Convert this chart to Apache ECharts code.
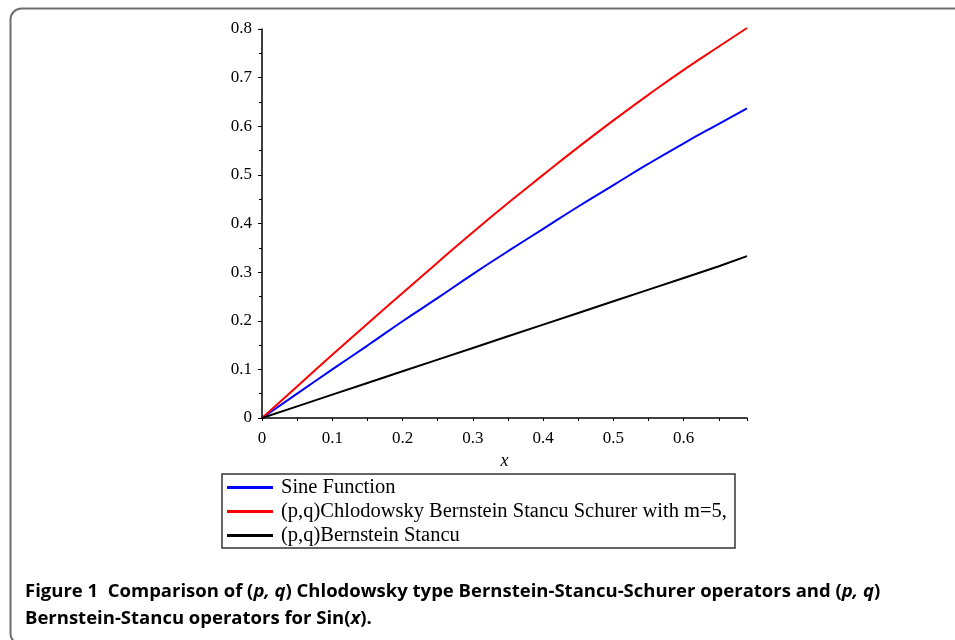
<!DOCTYPE html>
<html>
<head>
<meta charset="utf-8">
<script src="https://cdn.jsdelivr.net/npm/echarts@6/dist/echarts.min.js"></script>
<style>
    html, body { margin: 0; padding: 0; background: #fff; }
    #chart { width: 955px; height: 640px; }
</style>
</head>
<body>
<div id="chart"></div>
<script>
// values
var xs = [0, 0.05, 0.1, 0.15, 0.2, 0.25, 0.3, 0.35, 0.4, 0.45, 0.5, 0.55, 0.6, 0.65, 0.69];
var sineVals = [0, 0.050, 0.100, 0.149, 0.199, 0.247, 0.296, 0.343, 0.389, 0.435, 0.479, 0.523, 0.565, 0.605, 0.637];
var chlodowskyVals = [0, 0.065, 0.130, 0.194, 0.257, 0.320, 0.382, 0.442, 0.500, 0.557, 0.612, 0.665, 0.716, 0.764, 0.802];
var stancuVals = [0, 0.024, 0.048, 0.072, 0.096, 0.120, 0.144, 0.168, 0.192, 0.216, 0.240, 0.264, 0.288, 0.312, 0.333];

var seriesNames = [
    'Sine Function',
    '(p,q)Chlodowsky Bernstein Stancu Schurer with m=5,',
    '(p,q)Bernstein Stancu'
];
var seriesColors = ['#0000ff', '#ff0000', '#000000'];

function pairs(ys) {
    var out = [];
    for (var i = 0; i < xs.length; i++) {
        out.push([xs[i], ys[i]]);
    }
    return out;
}

var serif = '"Liberation Serif", "DejaVu Serif", serif';
var capFont = '"Open Sans", "Noto Sans", sans-serif';
var capSize = 18.5;

var myChart = echarts.init(document.getElementById('chart'));

myChart.setOption({
    animation: false,
    backgroundColor: '#fff',
    grid: {
        left: 262,
        top: 29,
        width: 485,
        height: 389
    },
    xAxis: {
        type: 'value',
        min: 0,
        max: 0.69,
        interval: 0.1,
        name: 'x',
        nameLocation: 'middle',
        nameGap: 30,
        nameTextStyle: {fontFamily: serif, fontStyle: 'italic', fontSize: 18, color: '#000'},
        axisLine: {lineStyle: {color: '#000', width: 1.5}},
        axisTick: {show: true, length: 3, lineStyle: {color: '#000'}},
        minorTick: {show: true, splitNumber: 2, length: 3, lineStyle: {color: '#000'}},
        splitLine: {show: false},
        axisLabel: {
            fontFamily: serif, fontSize: 17, color: '#000', margin: 12,
            showMaxLabel: false,
            formatter: function (v) { return v === 0 ? '0' : v.toFixed(1); }
        }
    },
    yAxis: {
        type: 'value',
        min: 0,
        max: 0.8,
        interval: 0.1,
        axisLine: {show: true, lineStyle: {color: '#000', width: 1.5}},
        axisTick: {show: true, length: 4, lineStyle: {color: '#000'}},
        minorTick: {show: true, splitNumber: 2, length: 3, lineStyle: {color: '#000'}},
        splitLine: {show: false},
        axisLabel: {
            fontFamily: serif, fontSize: 17, color: '#000', margin: 10,
            formatter: function (v) { return v === 0 ? '0' : v.toFixed(1); }
        }
    },
    legend: {
        orient: 'vertical',
        left: 222,
        top: 474,
        padding: [3, 8, 2, 5],
        itemGap: 3,
        itemWidth: 46,
        itemHeight: 3,
        icon: 'rect',
        borderColor: '#333',
        borderWidth: 1.5,
        textStyle: {fontFamily: serif, fontSize: 20.5, lineHeight: 20, color: '#000', padding: [0, 0, 0, 3]},
        data: seriesNames
    },
    series: [
        {
            name: seriesNames[0],
            type: 'line',
            showSymbol: false,
            clip: false,
            smooth: true,
            lineStyle: {color: seriesColors[0], width: 2},
            itemStyle: {color: seriesColors[0]},
            data: pairs(sineVals)
        },
        {
            name: seriesNames[1],
            type: 'line',
            showSymbol: false,
            clip: false,
            smooth: true,
            lineStyle: {color: seriesColors[1], width: 2},
            itemStyle: {color: seriesColors[1]},
            data: pairs(chlodowskyVals)
        },
        {
            name: seriesNames[2],
            type: 'line',
            showSymbol: false,
            clip: false,
            lineStyle: {color: seriesColors[2], width: 2},
            itemStyle: {color: seriesColors[2]},
            data: pairs(stancuVals)
        }
    ],
    graphic: [
        {
            type: 'rect',
            left: 8,
            top: 6,
            shape: {width: 960, height: 636, r: 11},
            style: {fill: 'none', stroke: '#6e6e6e', lineWidth: 2},
            z: -1
        },
        {
            type: 'text',
            left: 25,
            top: 582,
            style: {
                text: '{b|Figure 1  Comparison of (}{i|p, q}{b|) Chlodowsky type Bernstein-Stancu-Schurer operators and (}{i|p, q}{b|)}\n' +
                    '{b|Bernstein-Stancu operators for Sin(}{i|x}{b|).}',
                rich: {
                    b: {fontFamily: capFont, fontWeight: 'bold', fontSize: capSize, lineHeight: 27, color: '#111'},
                    i: {fontFamily: capFont, fontWeight: 'bold', fontStyle: 'italic', fontSize: capSize, lineHeight: 27, color: '#111'}
                }
            }
        }
    ]
});
</script>
</body>
</html>
